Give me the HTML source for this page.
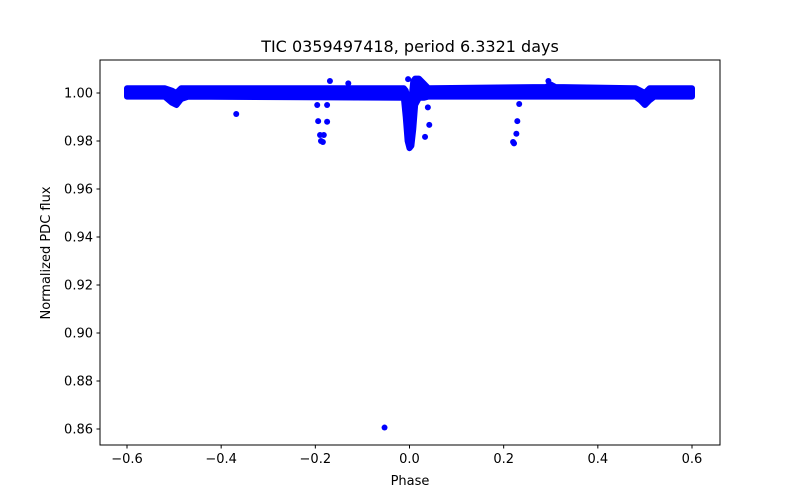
<!DOCTYPE html>
<html><head><meta charset="utf-8"><style>
body{margin:0;background:#fff;}
svg{display:block;font-family:"DejaVu Sans","Liberation Sans",sans-serif;}
</style></head><body>
<svg id="chart" width="800" height="500" viewBox="0 0 800 500">
<rect width="800" height="500" fill="#fff"/>
<g id="plot"></g>
<rect x="100" y="60" width="620" height="385" fill="none" stroke="#000" stroke-width="1"/>
<g id="xt"></g><g id="yt"></g>
<text x="410" y="52" text-anchor="middle" font-size="16">TIC 0359497418, period 6.3321 days</text>
<text x="410" y="485" text-anchor="middle" font-size="13">Phase</text>
<text x="50" y="253" text-anchor="middle" font-size="13" transform="rotate(-90 50 253)">Normalized PDC flux</text>
</svg>
<script>
const bandPhase=[-0.6,-0.52,-0.505,-0.495,-0.485,-0.47,-0.012,-0.008,-0.004,0,0.004,0.008,0.012,0.02,0.03,0.04,0.29,0.3,0.31,0.48,0.49,0.5,0.51,0.52,0.6];
const bandLow=[0.9985,0.9985,0.996,0.995,0.9975,0.9985,0.998,0.99,0.980,0.977,0.978,0.985,0.995,0.998,0.998,0.9985,0.9985,0.9985,0.9985,0.9985,0.997,0.995,0.997,0.9985,0.9985];
const bandHigh=[1.002,1.002,1.001,1.0,1.002,1.002,1.002,1.001,0.998,0.995,0.997,1.005,1.006,1.006,1.004,1.002,1.0025,1.0035,1.0025,1.002,1.001,1.0,1.002,1.002,1.002];
const outPhase=[-0.368,-0.196,-0.175,-0.194,-0.175,-0.19,-0.182,-0.188,-0.184,-0.169,-0.003,0.039,0.042,0.033,0.233,0.229,0.227,0.22,0.222,-0.053,-0.13,0.295];
const outFlux=[0.99125,0.995,0.995,0.9883,0.988,0.9825,0.9825,0.980,0.9796,1.005,1.0058,0.994,0.9867,0.9817,0.9954,0.9883,0.983,0.9796,0.979,0.8606,1.004,1.005];
const xTicks=[-0.6,-0.4,-0.2,0,0.2,0.4,0.6];
const xTickLabels=["\u22120.6","\u22120.4","\u22120.2","0.0","0.2","0.4","0.6"];
const yTicks=[0.86,0.88,0.90,0.92,0.94,0.96,0.98,1.00];
const yTickLabels=["0.86","0.88","0.90","0.92","0.94","0.96","0.98","1.00"];
const NS="http://www.w3.org/2000/svg";
const X=p=>409.5+p*470.83;
const Y=f=>93+(1-f)*2400;
const plot=document.getElementById('plot');
function mk(t,a,parent){const e=document.createElementNS(NS,t);for(const k in a)e.setAttribute(k,a[k]);parent.appendChild(e);return e;}
let d="";
bandPhase.forEach((p,i)=>{d+=(i?"L":"M")+X(p)+","+Y(bandHigh[i]);});
for(let i=bandPhase.length-1;i>=0;i--)d+="L"+X(bandPhase[i])+","+Y(bandLow[i]);
d+="Z";
const band=mk('path',{d:d,fill:"#0000ff",stroke:"#0000ff","stroke-width":6,"stroke-linejoin":"round"},plot);


outPhase.forEach((p,i)=>{
 const c=mk('circle',{cx:X(p),cy:Y(outFlux[i]),r:3,fill:"#0000ff"},plot);
 
 
});
const xt=document.getElementById('xt');
xTicks.forEach((v,i)=>{
 const x=X(v);
 const l=mk('line',{x1:x,x2:x,y1:445,y2:448.5,stroke:"#000"},xt);
 
 
 const t=mk('text',{x:x,y:463,"text-anchor":"middle","font-size":13},xt);
 t.textContent=xTickLabels[i];
 
 
});
const yt=document.getElementById('yt');
yTicks.forEach((v,i)=>{
 const y=Y(v);
 const l=mk('line',{x1:96.5,x2:100,y1:y,y2:y,stroke:"#000"},yt);
 
 
 const t=mk('text',{x:93,y:y+4.5,"text-anchor":"end","font-size":13},yt);
 t.textContent=yTickLabels[i];
 
 
});
</script>
</body></html>
